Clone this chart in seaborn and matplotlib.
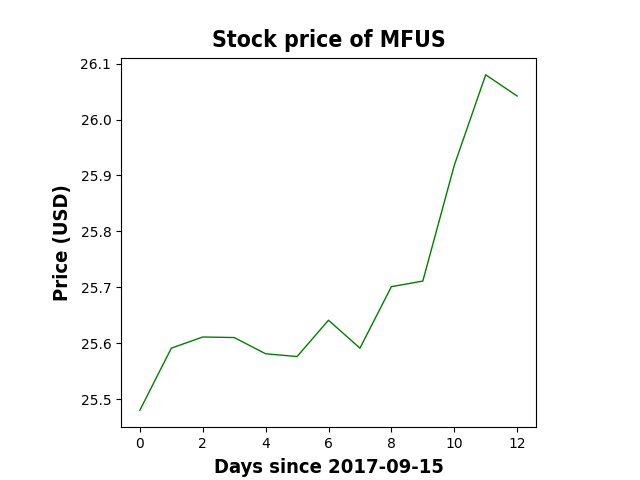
import matplotlib
matplotlib.use("Agg")
import matplotlib.pyplot as plt
import seaborn as sns
import pandas as pd

days = [0, 1, 2, 3, 4, 5, 6, 7, 8, 9, 10, 11, 12]
prices = [25.480, 25.591, 25.611, 25.610, 25.581, 25.576, 25.641,
          25.591, 25.701, 25.711, 25.918, 26.080, 26.042]

df = pd.DataFrame({"day": days, "price": prices})

fig = plt.figure(figsize=(6.4, 4.8), dpi=100)
ax = fig.add_axes([121 / 640, 1 - 427 / 480, 415 / 640, 369 / 480])
sns.lineplot(data=df, x="day", y="price", color="green", linewidth=1, ax=ax)

# narrow heavy font as stand-in for the Impact-like look
font = dict(family="DejaVu Sans", stretch="condensed", weight="heavy")
ax.set_title("Stock price of MFUS", fontsize=16.5, pad=8, **font)
ax.set_xlabel("Days since 2017-09-15", fontsize=14.5, labelpad=5, **font)
ax.set_ylabel("Price (USD)", fontsize=14.5, labelpad=6, **font)
ax.set_xticks([0, 2, 4, 6, 8, 10, 12])
ax.set_yticks([25.5, 25.6, 25.7, 25.8, 25.9, 26.0, 26.1])

fig.savefig("out.png", dpi=100)
